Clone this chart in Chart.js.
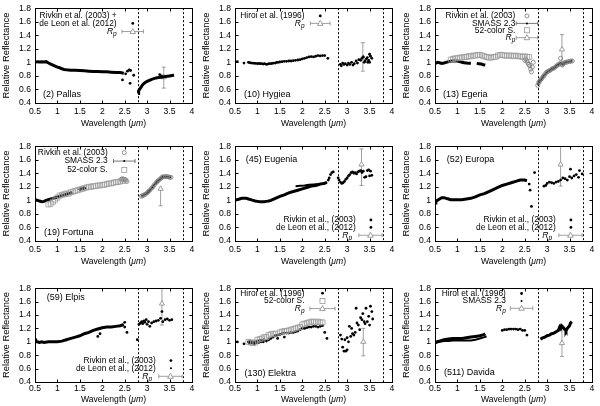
<!DOCTYPE html>
<html>
<head>
<meta charset="utf-8">
<script src="https://cdn.jsdelivr.net/npm/chart.js@4.4.1/dist/chart.umd.min.js"></script>
<style>
  html, body { margin: 0; padding: 0; background: #fff; }
  #fig { position: relative; width: 600px; height: 406px; overflow: hidden; }
  #fig canvas { position: absolute; }
</style>
</head>
<body>
<div id="fig"></div>
<script>
// Ejes comunes
const xTickValues = [0.5, 1, 1.5, 2, 2.5, 3, 3.5, 4];
const yTickValues = [0.4, 0.6, 0.8, 1, 1.2, 1.4, 1.6, 1.8];
const bandEdges = [2.8, 3.8];

// (2) Pallas
const pallasVisNir = [[0.5,1.0],[0.55,1.01],[0.6,1.005],[0.65,1.01],[0.7,1.005],[0.75,1.01],[0.8,0.99],[0.85,0.975],[0.9,0.96],[0.95,0.945],[1.0,0.93],[1.05,0.92],[1.1,0.905],[1.15,0.895],[1.2,0.89],[1.3,0.885],[1.4,0.885],[1.5,0.88],[1.6,0.875],[1.7,0.87],[1.8,0.865],[1.9,0.865],[2.0,0.86],[2.1,0.86],[2.2,0.855],[2.3,0.85],[2.4,0.85],[2.48,0.84]];
const pallasEdge = [[2.45,0.74],[2.52,0.83],[2.56,0.87],[2.6,0.89],[2.63,0.88],[2.62,0.69],[2.7,0.81]];
const pallasThreeMicron = [[2.8,0.54],[2.81,0.58],[2.83,0.6],[2.85,0.62],[2.88,0.65],[2.9,0.67],[2.95,0.7],[3.0,0.72],[3.05,0.735],[3.1,0.75],[3.15,0.76],[3.2,0.77],[3.25,0.775],[3.3,0.78],[3.35,0.785],[3.4,0.79],[3.45,0.795],[3.5,0.8],[3.55,0.805],[3.6,0.81]];
const pallasExtra = [[3.28,0.82],[3.32,0.8]];
const pallasRp = [[3.37, 0.78, 0.62, 0.93]];

// (10) Hygiea
const hygieaHiroi = [[0.55,1.01],[0.7,0.99],[0.8,1.0],[0.83,0.995],[0.86,0.99],[0.9,0.99],[0.93,0.985],[0.96,0.985],[1.0,0.98],[1.03,0.985],[1.06,0.98],[1.1,0.98],[1.13,0.975],[1.16,0.98],[1.2,0.97],[1.23,0.975],[1.26,0.98],[1.3,0.98],[1.33,0.985],[1.36,0.99],[1.4,0.99],[1.43,1.0],[1.46,1.0],[1.5,1.005],[1.55,1.01],[1.6,1.015],[1.65,1.015],[1.7,1.02],[1.75,1.02],[1.8,1.025],[1.85,1.03],[1.9,1.035],[1.95,1.04],[2.0,1.05],[2.05,1.06],[2.1,1.07],[2.15,1.08],[2.2,1.085],[2.25,1.08],[2.3,1.09],[2.35,1.1],[2.4,1.095],[2.45,1.1],[2.5,1.1],[2.57,1.06]];
const hygieaThreeMicron = [[2.85,0.97],[2.87,0.95],[2.9,0.99],[2.93,0.97],[2.96,0.98],[3.0,0.96],[3.03,0.99],[3.06,0.97],[3.1,1.0],[3.13,0.96],[3.16,0.98],[3.2,1.02],[3.23,0.99],[3.26,1.04],[3.3,1.03],[3.33,1.06],[3.36,1.08],[3.38,1.0],[3.4,1.02],[3.43,1.05],[3.45,1.07],[3.46,1.0],[3.48,1.03],[3.5,1.12],[3.5,1.0],[3.52,1.09],[3.55,1.06]];
const hygieaRp = [[3.35, 1.07, 0.87, 1.29]];

// (13) Egeria
const egeriaSmassA = [[0.5,0.98],[0.53,0.99],[0.56,1.0],[0.6,0.995],[0.65,0.985],[0.7,0.99],[0.75,1.0],[0.8,1.01],[0.85,1.015],[0.9,1.02],[0.95,1.02],[1.0,1.02],[1.05,1.01],[1.1,1.0],[1.15,0.995],[1.2,0.99],[1.25,0.985],[1.3,0.985]];
const egeriaSmassB = [[1.43,0.985],[1.48,0.98],[1.53,0.975],[1.58,0.965],[1.62,0.96]];
const egeria52 = [[0.85,1.04],[0.9,1.05],[0.95,1.06],[1.0,1.06],[1.05,1.07],[1.1,1.07],[1.15,1.08],[1.2,1.08],[1.25,1.09],[1.3,1.09],[1.35,1.1],[1.4,1.1],[1.45,1.11],[1.5,1.11],[1.55,1.1],[1.6,1.09],[1.65,1.08],[1.7,1.07],[1.75,1.07],[1.8,1.08],[1.85,1.08],[1.9,1.1],[1.95,1.11],[2.0,1.11],[2.05,1.1],[2.1,1.1],[2.15,1.1],[2.2,1.1],[2.25,1.09],[2.3,1.1],[2.35,1.09],[2.4,1.09],[2.45,1.08],[2.5,1.09],[2.55,1.08],[2.6,1.08]];
const egeriaRivkinEdge = [[2.5,1.03],[2.52,1.05],[2.55,1.02],[2.57,0.99],[2.59,0.97],[2.61,0.95],[2.63,0.9],[2.65,0.86],[2.67,0.93],[2.69,1.0]];
const egeriaRivkin = [[2.79,0.66],[2.81,0.7],[2.83,0.72],[2.85,0.74],[2.88,0.76],[2.91,0.79],[2.94,0.81],[2.97,0.84],[3.0,0.86],[3.03,0.87],[3.06,0.88],[3.1,0.9],[3.13,0.91],[3.16,0.92],[3.2,0.94],[3.23,0.96],[3.26,0.97],[3.3,0.99],[3.33,0.97],[3.36,0.98],[3.4,1.0],[3.43,1.0],[3.46,1.01],[3.5,1.01],[3.53,1.02],[3.56,1.02]];
const egeriaRivkinExtra = [[3.3,1.06],[3.34,0.96]];
const egeriaRp = [[3.33, 1.19, 0.98, 1.41]];

// (19) Fortuna
const fortunaSmassA = [[0.5,1.0],[0.53,1.005],[0.56,1.0],[0.6,0.99],[0.65,0.98],[0.7,0.985],[0.75,1.0],[0.8,1.01],[0.85,1.02],[0.9,1.03],[0.95,1.04],[1.0,1.05],[1.05,1.06],[1.1,1.07],[1.15,1.08],[1.2,1.09],[1.25,1.1],[1.3,1.11],[1.33,1.12]];
const fortunaSmassB = [[1.48,1.15],[1.52,1.17],[1.56,1.18],[1.6,1.18],[1.63,1.19]];
const fortuna52 = [[0.8,0.94],[0.85,0.95],[0.9,0.98],[0.95,1.01],[1.0,1.04],[1.05,1.07],[1.1,1.08],[1.15,1.09],[1.2,1.1],[1.25,1.1],[1.3,1.12],[1.35,1.13],[1.4,1.14],[1.45,1.15],[1.5,1.16],[1.55,1.17],[1.6,1.18],[1.65,1.19],[1.7,1.2],[1.75,1.2],[1.8,1.21],[1.85,1.21],[1.9,1.22],[1.95,1.22],[2.0,1.23],[2.05,1.23],[2.1,1.24],[2.15,1.25],[2.2,1.25],[2.25,1.26],[2.3,1.27],[2.35,1.27],[2.4,1.28],[2.45,1.29],[2.5,1.29]];
const fortunaRivkinEdge = [[2.42,1.31],[2.45,1.32],[2.47,1.31],[2.5,1.31],[2.52,1.3],[2.55,1.28]];
const fortunaRivkin = [[2.87,1.06],[2.9,1.07],[2.93,1.08],[2.96,1.09],[3.0,1.11],[3.03,1.13],[3.06,1.15],[3.1,1.18],[3.13,1.2],[3.16,1.23],[3.2,1.26],[3.23,1.28],[3.26,1.3],[3.3,1.32],[3.33,1.34],[3.36,1.35],[3.4,1.35],[3.43,1.35],[3.46,1.35],[3.5,1.34],[3.53,1.34]];
const fortunaRp = [[3.3, 1.17, 0.92, 1.17]];

// (45) Eugenia
const eugeniaMain = [[0.5,1.0],[0.55,1.01],[0.6,1.02],[0.65,1.03],[0.7,1.03],[0.75,1.03],[0.8,1.02],[0.85,1.01],[0.9,1.0],[0.95,0.99],[1.0,0.985],[1.05,0.98],[1.1,0.98],[1.15,0.98],[1.2,0.985],[1.25,0.99],[1.3,1.0],[1.4,1.03],[1.5,1.06],[1.6,1.08],[1.7,1.11],[1.8,1.13],[1.9,1.15],[2.0,1.17],[2.1,1.19],[2.2,1.21],[2.3,1.22],[2.4,1.24],[2.5,1.25],[2.55,1.27]];
const eugeniaUpper = [[1.85,1.21],[1.95,1.215],[2.05,1.22],[2.15,1.23],[2.25,1.235],[2.35,1.24],[2.45,1.25],[2.5,1.26]];
const eugeniaEdge = [[2.58,1.3],[2.6,1.33],[2.63,1.38],[2.66,1.41],[2.69,1.42]];
const eugeniaThreeMicron = [[2.8,1.33],[2.82,1.3],[2.85,1.27],[2.88,1.25],[2.91,1.26],[2.94,1.28],[2.97,1.31],[3.0,1.33],[3.03,1.36],[3.06,1.38],[3.09,1.41],[3.12,1.42],[3.15,1.4],[3.18,1.41],[3.21,1.39],[3.24,1.42],[3.27,1.43],[3.3,1.44],[3.33,1.41],[3.36,1.43],[3.39,1.34],[3.42,1.35],[3.45,1.44],[3.48,1.45],[3.5,1.36],[3.52,1.43],[3.55,1.37]];
const eugeniaRp = [[3.32, 1.53, 1.22, 1.76]];

// (52) Europa
const europaMain = [[0.5,0.96],[0.52,0.98],[0.55,1.0],[0.6,1.02],[0.65,1.04],[0.7,1.04],[0.75,1.03],[0.8,1.02],[0.85,1.01],[0.9,1.01],[1.0,1.01],[1.1,1.01],[1.2,1.02],[1.3,1.03],[1.4,1.05],[1.5,1.08],[1.6,1.1],[1.7,1.13],[1.8,1.16],[1.9,1.19],[2.0,1.22],[2.1,1.24],[2.2,1.26],[2.3,1.28],[2.4,1.3],[2.5,1.3],[2.55,1.29]];
const europaEdge = [[2.6,1.24],[2.62,1.15],[2.65,0.91],[2.72,1.41]];
const europaThreeMicron = [[2.93,1.21],[2.97,1.22],[3.0,1.25],[3.05,1.27],[3.1,1.26],[3.15,1.25],[3.2,1.27],[3.25,1.28],[3.3,1.3],[3.35,1.33],[3.4,1.32],[3.45,1.3],[3.5,1.35],[3.52,1.46],[3.55,1.33],[3.6,1.36],[3.65,1.38],[3.7,1.34],[3.72,1.44],[3.78,1.39]];
const europaRp = [[3.3, 1.53, 1.21, 1.8]];

// (59) Elpis
const elpisMain = [[0.5,1.0],[0.55,1.0],[0.6,0.99],[0.65,1.0],[0.7,0.99],[0.8,1.0],[0.9,1.0],[1.0,1.0],[1.1,1.01],[1.2,1.03],[1.3,1.05],[1.4,1.07],[1.5,1.09],[1.6,1.12],[1.7,1.14],[1.8,1.17],[1.9,1.19],[2.0,1.21],[2.1,1.22],[2.2,1.22],[2.3,1.23],[2.4,1.24],[2.45,1.25],[2.48,1.26]];
const elpisScatter = [[0.52,1.03],[1.9,1.08],[1.95,1.12],[2.5,1.29],[2.5,1.22],[2.55,1.14]];
const elpisThreeMicron = [[2.78,1.03],[2.82,1.26],[2.85,1.28],[2.88,1.3],[2.9,1.27],[2.93,1.31],[2.95,1.29],[2.98,1.33],[3.0,1.26],[3.03,1.3],[3.06,1.23],[3.1,1.28],[3.15,1.3],[3.2,1.31],[3.25,1.32],[3.3,1.35],[3.33,1.45],[3.35,1.3],[3.4,1.33],[3.45,1.34],[3.5,1.32],[3.55,1.33]];
const elpisRp = [[3.33, 1.57, 1.25, 1.8]];

// (130) Elektra
const elektraHiroi = [[0.55,1.0],[0.7,0.97],[0.8,1.0],[0.82,0.98],[0.85,1.01],[0.88,0.98],[0.9,0.99],[0.93,0.97],[0.95,1.0],[0.98,0.99],[1.0,1.01],[1.03,0.99],[1.05,1.02],[1.08,1.0],[1.1,1.02],[1.13,1.0],[1.15,1.03],[1.2,1.01],[1.25,1.03],[1.3,1.05],[1.35,1.07],[1.4,1.09],[1.45,1.1],[1.45,1.05],[1.5,1.11],[1.55,1.12],[1.6,1.13],[1.6,1.07],[1.65,1.13],[1.7,1.13],[1.75,1.14],[1.8,1.14],[1.85,1.15],[1.9,1.16],[1.95,1.18],[2.0,1.2],[2.05,1.2],[2.1,1.21],[2.15,1.22],[2.2,1.22],[2.25,1.23],[2.3,1.23],[2.35,1.22],[2.4,1.23],[2.45,1.24],[2.5,1.14],[2.55,1.05]];
const elektraThreeMicron = [[2.85,1.1],[2.88,1.04],[2.9,0.92],[2.93,0.86],[2.95,1.03],[2.97,0.86],[3.0,0.88],[3.0,1.06],[3.03,1.0],[3.05,1.23],[3.08,1.08],[3.1,1.2],[3.12,1.12],[3.15,1.1],[3.18,1.14],[3.2,1.5],[3.22,1.28],[3.25,1.25],[3.28,1.18],[3.3,1.36],[3.33,1.33],[3.35,1.42],[3.38,1.3],[3.4,1.27],[3.42,1.5],[3.45,1.3],[3.48,1.38],[3.5,1.25],[3.52,1.53],[3.55,1.45],[3.57,1.34]];
const elektra52 = [[0.8,1.0],[0.85,0.99],[0.9,0.98],[0.95,0.99],[1.0,1.03],[1.05,1.04],[1.1,1.05],[1.15,1.07],[1.2,1.07],[1.25,1.1],[1.3,1.11],[1.35,1.12],[1.4,1.12],[1.5,1.14],[1.55,1.15],[1.6,1.16],[1.65,1.16],[1.7,1.17],[1.75,1.18],[1.8,1.19],[1.85,1.2],[1.9,1.21],[1.95,1.22],[2.0,1.26],[2.05,1.27],[2.1,1.28],[2.15,1.29],[2.2,1.3],[2.25,1.3],[2.3,1.29],[2.35,1.3],[2.4,1.29],[2.45,1.29]];
const elektraRp = [[3.36, 1.0, 0.79, 1.2]];

// (511) Davida
const davidaHiroi = [[0.5,0.99],[0.55,1.0],[0.6,1.01],[0.7,1.03],[0.8,1.04],[0.9,1.05],[1.0,1.05],[1.1,1.05],[1.2,1.06],[1.3,1.07],[1.4,1.08],[1.5,1.09],[1.55,1.1],[1.6,1.11],[1.62,1.12]];
const davidaSmass = [[0.5,0.98],[0.6,1.0],[0.7,1.01],[0.8,1.01],[0.9,1.02],[1.0,1.02],[1.1,1.02],[1.2,1.02],[1.3,1.02],[1.4,1.03],[1.5,1.05],[1.6,1.07],[1.65,1.08]];
const davidaHiroiK = [[2.0,1.17],[2.05,1.18],[2.1,1.18],[2.15,1.19],[2.2,1.19],[2.25,1.19],[2.3,1.19],[2.35,1.18],[2.4,1.19],[2.45,1.17],[2.5,1.17],[2.55,1.1]];
const davidaThreeMicron = [[2.85,1.04],[2.88,1.05],[2.9,1.06],[2.95,1.07],[3.0,1.09],[3.05,1.1],[3.1,1.12],[3.15,1.13],[3.2,1.15],[3.25,1.17],[3.28,1.22],[3.3,1.2],[3.32,1.24],[3.35,1.22],[3.4,1.18],[3.42,1.16],[3.45,1.2],[3.5,1.24],[3.52,1.28],[3.55,1.3]];
const davidaRp = [[3.33, 0.98, 0.78, 1.18]];

// Estilos de las series (tipo gnuplot)
const styles = {
  dense: { showLine: true, borderColor: '#000', borderWidth: 3, pointRadius: 0 },
  denseThin: { showLine: true, borderColor: '#000', borderWidth: 2, pointRadius: 0 },
  dots: { showLine: false, pointRadius: 1.4, pointBackgroundColor: '#000', pointBorderWidth: 0 },
  smallDots: { showLine: false, pointRadius: 0.9, pointBackgroundColor: '#000', pointBorderWidth: 0 },
  squares: { showLine: false, pointStyle: 'rect', pointRadius: 3.5, pointBackgroundColor: 'rgba(0,0,0,0)', pointBorderColor: '#999', pointBorderWidth: 0.8 },
  circles: { showLine: false, pointStyle: 'circle', pointRadius: 2, pointBackgroundColor: 'rgba(0,0,0,0)', pointBorderColor: '#777', pointBorderWidth: 0.8 },
  circlesLine: { showLine: true, borderColor: '#222', borderWidth: 2, pointStyle: 'circle', pointRadius: 2, pointBackgroundColor: 'rgba(0,0,0,0)', pointBorderColor: '#777', pointBorderWidth: 0.8 },
  rp: { showLine: false, pointStyle: 'triangle', pointRadius: 3, pointBackgroundColor: '#fff', pointBorderColor: '#888', pointBorderWidth: 0.8 }
};

// Posición de cada panel (px en la página)
const colPlot = [[35, 192], [235, 392], [435, 592]];
const rowPlot = [[5, 103], [143, 241], [285, 382]];
const rowAxisH = [30, 30, 24];
const rowTickPad = [3, 3, 1.5];
const rowTitleGap = [21, 21, 17.5];

const panels = [
  { name: '(2) Pallas', nameAt: [0.68, 0.53], col: 0, row: 0,
    series: [[pallasVisNir, 'dense'], [pallasEdge, 'dots'], [pallasThreeMicron, 'dense'], [pallasExtra, 'dots']],
    rp: pallasRp,
    legend: { textRight: 2.32, sampleX: 2.68, half: 0.24,
      rows: [['Rivkin et al. (2003) +', 1.685, 'none'], ['de Leon et al. (2012)', 1.575, 'dot'], ['Rp', 1.455, 'rp']] } },
  { name: '(10) Hygiea', nameAt: [0.7, 0.53], col: 1, row: 0,
    series: [[hygieaHiroi, 'dots'], [hygieaThreeMicron, 'dots']],
    rp: hygieaRp,
    legend: { textRight: 2.05, sampleX: 2.4, half: 0.22,
      rows: [['Hiroi et al. (1996)', 1.685, 'dot'], ['Rp', 1.575, 'rp']] } },
  { name: '(13) Egeria', nameAt: [0.68, 0.53], col: 2, row: 0,
    series: [[egeria52, 'squares'], [egeriaSmassA, 'dense'], [egeriaSmassB, 'dense'], [egeriaRivkinEdge, 'circles'], [egeriaRivkin, 'circlesLine'], [egeriaRivkinExtra, 'circles']],
    rp: egeriaRp,
    legend: { textRight: 2.29, sampleX: 2.55, half: 0.24,
      rows: [['Rivkin et al. (2003)', 1.685, 'circle'], ['SMASS 2.3', 1.575, 'smass'], ['52-color S.', 1.474, 'square'], ['Rp', 1.364, 'rp']] } },
  { name: '(19) Fortuna', nameAt: [0.7, 0.53], col: 0, row: 1,
    series: [[fortuna52, 'squares'], [fortunaSmassA, 'dense'], [fortunaSmassB, 'dense'], [fortunaRivkinEdge, 'circles'], [fortunaRivkin, 'circlesLine']],
    rp: fortunaRp,
    legend: { textRight: 2.12, sampleX: 2.49, half: 0.24,
      rows: [['Rivkin et al. (2003)', 1.705, 'circle'], ['SMASS 2.3', 1.58, 'smass'], ['52-color S.', 1.45, 'square']] } },
  { name: '(45) Eugenia', nameAt: [0.74, 1.61], col: 1, row: 1,
    series: [[eugeniaMain, 'dense'], [eugeniaUpper, 'denseThin'], [eugeniaEdge, 'dots'], [eugeniaThreeMicron, 'dots']],
    rp: eugeniaRp,
    legend: { textRight: 3.19, sampleX: 3.53, half: 0.26,
      rows: [['Rivkin et al., (2003)', 0.71, 'dot'], ['de Leon et al., (2012)', 0.6, 'dot'], ['Rp', 0.485, 'rp', 3.52, 3.11]] } },
  { name: '(52) Europa', nameAt: [0.76, 1.61], col: 2, row: 1,
    series: [[europaMain, 'dense'], [europaEdge, 'dots'], [europaThreeMicron, 'dots']],
    rp: europaRp,
    legend: { textRight: 3.19, sampleX: 3.53, half: 0.26,
      rows: [['Rivkin et al., (2003)', 0.71, 'dot'], ['de Leon et al., (2012)', 0.6, 'dot'], ['Rp', 0.485, 'rp', 3.52, 3.11]] } },
  { name: '(59) Elpis', nameAt: [0.76, 1.66], col: 0, row: 2,
    series: [[elpisMain, 'dense'], [elpisScatter, 'dots'], [elpisThreeMicron, 'dots']],
    rp: elpisRp,
    legend: { textRight: 3.19, sampleX: 3.53, half: 0.26,
      rows: [['Rivkin et al., (2003)', 0.72, 'dot'], ['de Leon et al., (2012)', 0.605, 'smallDot'], ['Rp', 0.485, 'rp', 3.52, 3.11]] } },
  { name: '(130) Elektra', nameAt: [0.71, 0.53], col: 1, row: 2,
    series: [[elektra52, 'squares'], [elektraHiroi, 'dots'], [elektraThreeMicron, 'dots']],
    rp: elektraRp,
    legend: { textRight: 2.05, sampleX: 2.45, half: 0.28,
      rows: [['Hiroi et al. (1996)', 1.725, 'dot'], ['52-color S.', 1.61, 'square'], ['Rp', 1.495, 'rp']] } },
  { name: '(511) Davida', nameAt: [0.7, 0.54], col: 2, row: 2,
    series: [[davidaSmass, 'denseThin'], [davidaHiroi, 'dense'], [davidaHiroiK, 'dots'], [davidaThreeMicron, 'dense']],
    rp: davidaRp,
    legend: { textRight: 2.08, sampleX: 2.43, half: 0.25,
      rows: [['Hiroi et al. (1996)', 1.72, 'dot'], ['SMASS 2.3', 1.61, 'smallDot'], ['Rp', 1.5, 'rp']] } }
];

const FONT = '"Liberation Sans", Arial, Helvetica, sans-serif';

function toPoints(arr) {
  return arr.map(p => ({ x: p[0], y: p[1] }));
}

// Texto R_p en cursiva con subíndice
function drawRp(ctx, xRight, y) {
  ctx.font = 'italic 8.5px ' + FONT;
  const wR = ctx.measureText('R').width;
  ctx.font = 'italic 6.5px ' + FONT;
  const wp = ctx.measureText('p').width;
  const x0 = xRight - wR - wp;
  ctx.textAlign = 'left';
  ctx.font = 'italic 8.5px ' + FONT;
  ctx.fillText('R', x0, y);
  ctx.font = 'italic 6.5px ' + FONT;
  ctx.fillText('p', x0 + wR, y + 2.5);
}

function drawErrBar(ctx, x, y1, y2) {
  ctx.beginPath();
  ctx.moveTo(x, y1); ctx.lineTo(x, y2);
  ctx.moveTo(x - 2, y1); ctx.lineTo(x + 2, y1);
  ctx.moveTo(x - 2, y2); ctx.lineTo(x + 2, y2);
  ctx.stroke();
}

function drawSample(ctx, kind, cx, cy, halfPx) {
  ctx.save();
  if (kind === 'dot' || kind === 'smallDot') {
    ctx.fillStyle = '#000';
    ctx.beginPath(); ctx.arc(cx, cy, kind === 'dot' ? 1.4 : 1, 0, Math.PI * 2); ctx.fill();
  } else if (kind === 'circle') {
    ctx.strokeStyle = '#777'; ctx.lineWidth = 0.8;
    ctx.beginPath(); ctx.arc(cx, cy, 2, 0, Math.PI * 2); ctx.stroke();
  } else if (kind === 'square') {
    ctx.strokeStyle = '#999'; ctx.lineWidth = 0.8;
    ctx.strokeRect(cx - 2.5, cy - 2.5, 5, 5);
  } else if (kind === 'smass' || kind === 'rp') {
    ctx.strokeStyle = kind === 'rp' ? '#888' : '#555'; ctx.lineWidth = 0.8;
    ctx.beginPath();
    ctx.moveTo(cx - halfPx, cy); ctx.lineTo(cx + halfPx, cy);
    ctx.moveTo(cx - halfPx, cy - 2); ctx.lineTo(cx - halfPx, cy + 2);
    ctx.moveTo(cx + halfPx, cy - 2); ctx.lineTo(cx + halfPx, cy + 2);
    ctx.stroke();
    if (kind === 'smass') {
      ctx.fillStyle = '#000';
      ctx.beginPath(); ctx.arc(cx, cy, 1, 0, Math.PI * 2); ctx.fill();
    } else {
      ctx.fillStyle = '#fff';
      ctx.beginPath();
      ctx.moveTo(cx, cy - 3); ctx.lineTo(cx + 2.8, cy + 2); ctx.lineTo(cx - 2.8, cy + 2); ctx.closePath();
      ctx.fill(); ctx.stroke();
    }
  }
  ctx.restore();
}

// Plugin: marco, ticks hacia dentro, líneas punteadas, barras de error, leyenda y títulos
function makeDecor(panel) {
  return {
    id: 'decor',
    beforeDatasetsDraw(chart) {
      const { ctx, chartArea: a, scales: { x, y } } = chart;
      ctx.save();
      ctx.beginPath(); ctx.rect(a.left, a.top, a.right - a.left, a.bottom - a.top); ctx.clip();
      ctx.strokeStyle = '#000'; ctx.lineWidth = 1; ctx.setLineDash([2, 2]);
      bandEdges.forEach(v => {
        const px = Math.round(x.getPixelForValue(v)) + 0.5;
        ctx.beginPath(); ctx.moveTo(px, a.top); ctx.lineTo(px, a.bottom); ctx.stroke();
      });
      ctx.setLineDash([]);
      ctx.strokeStyle = '#888'; ctx.lineWidth = 0.8;
      panel.rp.forEach(r => {
        drawErrBar(ctx, x.getPixelForValue(r[0]), y.getPixelForValue(r[2]), y.getPixelForValue(r[3]));
      });
      ctx.restore();
    },
    afterDraw(chart) {
      const { ctx, chartArea: a, scales: { x, y } } = chart;
      ctx.save();
      // marco
      ctx.strokeStyle = '#000'; ctx.lineWidth = 1;
      const L = Math.round(a.left) + 0.5, R = Math.round(a.right) + 0.5;
      const T = Math.round(a.top) + 0.5, B = Math.round(a.bottom) + 0.5;
      ctx.strokeRect(L, T, R - L, B - T);
      // ticks hacia dentro (con espejo)
      ctx.beginPath();
      xTickValues.forEach(v => {
        const px = Math.round(x.getPixelForValue(v)) + 0.5;
        ctx.moveTo(px, B); ctx.lineTo(px, B - 3);
        ctx.moveTo(px, T); ctx.lineTo(px, T + 3);
      });
      yTickValues.forEach(v => {
        const py = Math.round(y.getPixelForValue(v)) + 0.5;
        ctx.moveTo(L, py); ctx.lineTo(L + 3, py);
        ctx.moveTo(R, py); ctx.lineTo(R - 3, py);
      });
      ctx.stroke();

      ctx.fillStyle = '#000';
      ctx.textBaseline = 'middle';
      // nombre del asteroide
      ctx.font = '9px ' + FONT;
      ctx.textAlign = 'left';
      ctx.fillText(panel.name, x.getPixelForValue(panel.nameAt[0]), y.getPixelForValue(panel.nameAt[1]));

      // leyenda
      const lg = panel.legend;
      const halfPx = x.getPixelForValue(lg.sampleX + lg.half) - x.getPixelForValue(lg.sampleX);
      lg.rows.forEach(row => {
        const py = y.getPixelForValue(row[1]);
        const tx = x.getPixelForValue(row[4] !== undefined ? row[4] : lg.textRight);
        if (row[0] === 'Rp') {
          drawRp(ctx, tx, py);
        } else {
          ctx.font = '8.4px ' + FONT;
          ctx.textAlign = 'right';
          ctx.fillText(row[0], tx, py);
        }
        const sx = x.getPixelForValue(row[3] !== undefined ? row[3] : lg.sampleX);
        drawSample(ctx, row[2], sx, py, halfPx);
      });

      // título eje x: Wavelength (μm)
      ctx.font = '8.6px ' + FONT;
      const p1 = 'Wavelength (', p3 = ')';
      const w1 = ctx.measureText(p1).width, w3 = ctx.measureText(p3).width;
      ctx.font = 'italic 8.6px ' + FONT;
      const w2 = ctx.measureText('μm').width;
      let cx = (a.left + a.right) / 2 - (w1 + w2 + w3) / 2;
      const ty = a.bottom + rowTitleGap[panel.row];
      ctx.textAlign = 'left';
      ctx.font = '8.6px ' + FONT; ctx.fillText(p1, cx, ty); cx += w1;
      ctx.font = 'italic 8.6px ' + FONT; ctx.fillText('μm', cx, ty); cx += w2;
      ctx.font = '8.6px ' + FONT; ctx.fillText(p3, cx, ty);

      // título eje y
      ctx.translate(a.left - 29, (a.top + a.bottom) / 2);
      ctx.rotate(-Math.PI / 2);
      ctx.textAlign = 'center';
      ctx.font = '9.4px ' + FONT;
      ctx.fillText('Relative Reflectance', 0, 0);
      ctx.restore();
    }
  };
}

const fig = document.getElementById('fig');

panels.forEach(panel => {
  const [pl, pr] = colPlot[panel.col];
  const [pt, pb] = rowPlot[panel.row];
  const axisH = rowAxisH[panel.row];
  const padTop = 6, padRight = 8, yAxisW = 35;
  const left = pl - yAxisW;
  const top = pt - padTop;
  const width = pr - left + padRight;
  const height = padTop + (pb - pt) + axisH;

  const canvas = document.createElement('canvas');
  canvas.width = width; canvas.height = height;
  canvas.style.left = left + 'px'; canvas.style.top = top + 'px';
  canvas.style.width = width + 'px'; canvas.style.height = height + 'px';
  fig.appendChild(canvas);

  const datasets = panel.series.map(([arr, st]) => Object.assign({ data: toPoints(arr) }, styles[st]));
  datasets.push(Object.assign({ data: toPoints(panel.rp) }, styles.rp));

  new Chart(canvas.getContext('2d'), {
    type: 'scatter',
    data: { datasets: datasets },
    options: {
      responsive: false,
      animation: false,
      devicePixelRatio: 1,
      layout: { padding: { top: padTop, right: padRight, left: 0, bottom: 0 } },
      plugins: { legend: { display: false }, tooltip: { enabled: false } },
      scales: {
        x: {
          type: 'linear', min: 0.5, max: 4,
          grid: { display: false, drawTicks: false }, border: { display: false },
          ticks: { stepSize: 0.5, color: '#000', padding: rowTickPad[panel.row], maxRotation: 0, autoSkip: false,
                   font: { family: FONT, size: 8.6 },
                   callback: v => String(+v.toFixed(2)) },
          afterFit: s => { s.height = axisH; }
        },
        y: {
          type: 'linear', min: 0.4, max: 1.8,
          grid: { display: false, drawTicks: false }, border: { display: false },
          ticks: { stepSize: 0.2, color: '#000', padding: 4, autoSkip: false,
                   font: { family: FONT, size: 8.6 },
                   callback: v => String(+v.toFixed(2)) },
          afterFit: s => { s.width = yAxisW; }
        }
      }
    },
    plugins: [makeDecor(panel)]
  });
});
</script>
</body>
</html>
